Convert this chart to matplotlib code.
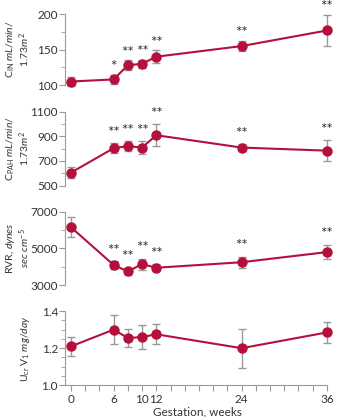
import numpy as np
import matplotlib
matplotlib.use("Agg")
import matplotlib.pyplot as plt
from matplotlib.ticker import MultipleLocator

plt.rcParams['font.family'] = ['Lato', 'DejaVu Sans']
plt.rcParams['mathtext.fontset'] = 'custom'
plt.rcParams['mathtext.rm'] = 'Lato'
plt.rcParams['mathtext.it'] = 'Lato:italic'

# gestation weeks
weeks = [0, 6, 8, 10, 12, 24, 36]

# inulin clearance
cin = [105, 108, 128, 130, 140, 155, 177]
cin_err = [7, 6, 7, 6, 9, 7, 22]
cin_sig = ['', '*', '**', '**', '**', '**', '**']

# PAH clearance
cpah = [605, 803, 820, 808, 908, 808, 783]
cpah_err = [45, 40, 40, 55, 90, 25, 85]
cpah_sig = ['', '**', '**', '**', '**', '**', '**']

# renal vascular resistance
rvr = [6150, 4100, 3750, 4150, 3950, 4250, 4800]
rvr_err = [550, 200, 200, 300, 200, 300, 400]
rvr_sig = ['', '**', '**', '**', '**', '**', '**']

# urinary creatinine
ucr = [1.21, 1.30, 1.255, 1.26, 1.275, 1.20, 1.285]
ucr_err = [0.05, 0.08, 0.05, 0.065, 0.055, 0.105, 0.055]

red = '#b5103c'
gray = '#999999'

fig = plt.figure(figsize=(3.4, 4.17), dpi=100)
L, W = 0.191, 0.781
panels = [
    (0.796, 0.170, cin, cin_err, cin_sig, (100, 200), [100, 150, 200], 25,
     'C$_{\\mathrm{IN}}$ $\\mathit{mL/min/}$\n$\\mathit{1.73m^2}$', ['100', '150', '200'], 1),
    (0.555, 0.1775, cpah, cpah_err, cpah_sig, (500, 1100), [500, 700, 900, 1100], 100,
     'C$_{\\mathrm{PAH}}$ $\\mathit{mL/min/}$\n$\\mathit{1.73m^2}$', ['500', '700', '900', '1100'], 25),
    (0.316, 0.1765, rvr, rvr_err, rvr_sig, (3000, 7000), [3000, 5000, 7000], 1000,
     'RVR, $\\mathit{dynes}$\n$\\mathit{sec\\ cm^{-5}}$', ['3000', '5000', '7000'], 180),
    (0.076, 0.178, ucr, ucr_err, None, (1.0, 1.4), [1.0, 1.2, 1.4], 0.05,
     'U$_{\\mathrm{cr}}$ V$_{\\mathrm{1}}$ $\\mathit{mg/day}$', ['1.0', '1.2', '1.4'], 0),
]

for bottom, height, vals, errs, sig, ylim, yt, minor, lab, ytl, off in panels:
    ax = fig.add_axes([L, bottom, W, height])
    ax.errorbar(weeks, vals, yerr=errs, fmt='none', ecolor=gray, elinewidth=1,
                capsize=3, capthick=1, zorder=1, clip_on=False)
    ax.plot(weeks, vals, color=red, lw=1.5, marker='o', ms=6.5, zorder=3, clip_on=False)
    ax.set_xlim(-0.85, 36.5)
    ax.set_ylim(*ylim)
    ax.set_yticks(yt)
    ax.set_yticklabels(ytl)
    ax.yaxis.set_minor_locator(MultipleLocator(minor))
    for s in ['top', 'right']:
        ax.spines[s].set_visible(False)
    ax.spines['left'].set_color(gray)
    ax.spines['bottom'].set_color(gray)
    ax.tick_params(axis='y', which='major', length=4, color=gray, labelsize=8.5,
                   labelcolor='#333333', pad=1)
    ax.tick_params(axis='y', which='minor', length=3, color=gray)
    ax.set_ylabel(lab, fontsize=7.5, color='#333333', linespacing=1.0)
    ax.yaxis.set_label_coords(-0.125, 0.5)
    if sig is not None:
        ax.spines['bottom'].set_visible(False)
        ax.set_xticks([])
        for x, v, e, s in zip(weeks, vals, errs, sig):
            if s:
                ax.text(x, v + e + off, s, ha='center', va='bottom', fontsize=11,
                        color='#333333')
    else:
        ax.spines['bottom'].set_bounds(-0.85, 36)
        ax.set_xticks(range(0, 37, 2))
        ax.set_xticklabels([str(w) if w in (0, 6, 10, 12, 24, 36) else '' for w in range(0, 37, 2)])
        ax.tick_params(axis='x', length=4, color=gray, labelsize=8.5, labelcolor='#333333', pad=2)
        ax.set_xlabel('Gestation, weeks', fontsize=8.5, color='#333333', labelpad=1)

fig.savefig('out.png', dpi=100)
